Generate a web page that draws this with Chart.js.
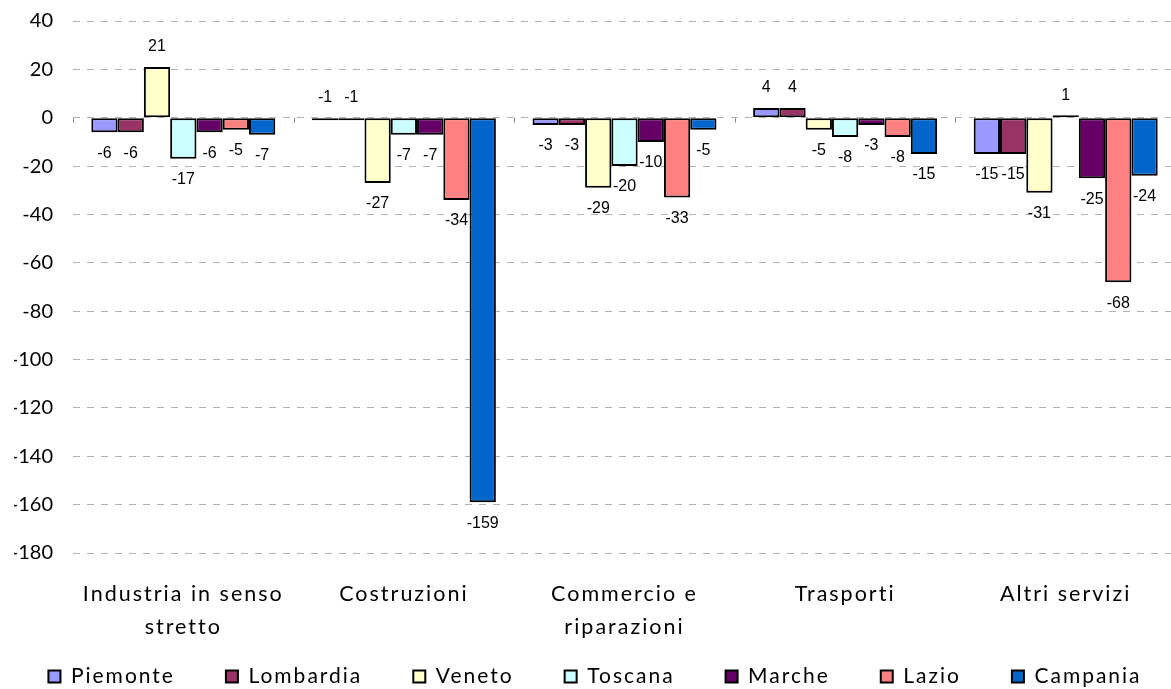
<!DOCTYPE html>
<html lang="it">
<head>
    <meta charset="UTF-8">
    <title>Variazione occupati per settore</title>
    <script src="https://cdn.jsdelivr.net/npm/chart.js"></script>
    <style>
        html, body { margin: 0; padding: 0; background: #fff; overflow: hidden; }
        canvas { display: block; }
    </style>
</head>
<body>
    <canvas id="sectorChart" width="1176" height="689"></canvas>

    <script>
        // categories on the x axis (multi-line labels as arrays)
        const categories = [
            ['Industria in senso', 'stretto'],
            'Costruzioni',
            ['Commercio e', 'riparazioni'],
            'Trasporti',
            'Altri servizi'
        ];

        const regions = ['Piemonte', 'Lombardia', 'Veneto', 'Toscana', 'Marche', 'Lazio', 'Campania'];

        // values per region, one per category
        const piemonte  = [-6, -1, -3, 4, -15];
        const lombardia = [-6, -1, -3, 4, -15];
        const veneto    = [21, -27, -29, -5, -31];
        const toscana   = [-17, -7, -20, -8, 1];
        const marche    = [-6, -7, -10, -3, -25];
        const lazio     = [-5, -34, -33, -8, -68];
        const campania  = [-7, -159, -5, -15, -24];

        const regionColors = ['#9999FF', '#993366', '#FFFFCC', '#CCFFFF', '#660066', '#FF8080', '#0066CC'];

        const yMin = -180;
        const yMax = 40;
        const yStep = 20;

        const seriesValues = [piemonte, lombardia, veneto, toscana, marche, lazio, campania];

        // spaced text for legend / category labels, plain for the y ticks
        const spacingPlugin = {
            id: 'spacing',
            beforeLayout(chart) {
                chart.ctx.letterSpacing = '2px';
                const lg = chart.legend;
                if (lg && !lg._oneRow) {
                    // keep all seven entries on one row even with wide gaps
                    const origFit = lg.fit;
                    lg.fit = function () {
                        const mw = this.maxWidth;
                        this.maxWidth = mw + 300;
                        origFit.call(this);
                        this.maxWidth = mw;
                        this.width = mw;
                    };
                    const origDraw = lg.draw;
                    lg.draw = function () {
                        const l = this.left, r = this.right;
                        this.left = l - 150;
                        this.right = r + 150;
                        origDraw.call(this);
                        this.left = l;
                        this.right = r;
                    };
                    lg._oneRow = true;
                }
            },
            beforeDraw(chart) {
                chart.ctx.letterSpacing = '2px';
                const { x, y } = chart.scales;
                if (y && !y._plainLabels) {
                    const orig = y.drawLabels;
                    y.drawLabels = function (area) {
                        const c = this.ctx;
                        const prev = c.letterSpacing;
                        c.letterSpacing = '0px';
                        orig.call(this, area);
                        c.letterSpacing = prev;
                    };
                    y._plainLabels = true;
                }
                // let the second line of the category labels run past the axis box
                if (x) x._computeLabelArea = () => undefined;
            }
        };

        // small tick marks on the zero line between categories
        const zeroTicksPlugin = {
            id: 'zeroTicks',
            beforeDatasetsDraw(chart) {
                const { ctx, scales: { x, y } } = chart;
                const y0 = y.getPixelForValue(0);
                const step = (x.right - x.left) / categories.length;
                ctx.save();
                ctx.strokeStyle = '#8c8c8c';
                ctx.lineWidth = 1;
                for (let i = 0; i <= categories.length; i++) {
                    const px = Math.round(x.left + i * step) + 0.5;
                    ctx.beginPath();
                    ctx.moveTo(px, y0);
                    ctx.lineTo(px, y0 + 5);
                    ctx.stroke();
                }
                ctx.restore();
            }
        };

        // value labels at bar ends
        const valueLabelsPlugin = {
            id: 'valueLabels',
            afterDatasetsDraw(chart) {
                const { ctx } = chart;
                const base = chart.scales.y.getPixelForValue(0);
                ctx.save();
                ctx.letterSpacing = '0px';
                ctx.font = '16px "Liberation Sans", Arial, sans-serif';
                ctx.fillStyle = '#000';
                ctx.textAlign = 'center';
                ctx.textBaseline = 'middle';
                chart.data.datasets.forEach((ds, i) => {
                    const meta = chart.getDatasetMeta(i);
                    meta.data.forEach((bar, j) => {
                        const v = ds.data[j];
                        let ty;
                        if (v >= 0) ty = bar.y - 20;
                        else if (v > -2) ty = base - 20;
                        else ty = bar.y + 21;
                        ctx.fillText(String(v), bar.x, ty);
                    });
                });
                ctx.restore();
            }
        };

        const ctx = document.getElementById('sectorChart').getContext('2d');

        new Chart(ctx, {
            type: 'bar',
            data: {
                labels: categories,
                datasets: regions.map((name, i) => ({
                    label: name,
                    data: seriesValues[i],
                    backgroundColor: regionColors[i],
                    borderColor: '#000',
                    borderWidth: 2,
                    borderSkipped: false,
                    categoryPercentage: 0.834,
                    barPercentage: 1
                }))
            },
            options: {
                responsive: false,
                animation: false,
                devicePixelRatio: 1,
                layout: {
                    padding: { top: 21, right: 0, bottom: 0, left: 14 }
                },
                scales: {
                    x: {
                        grid: { display: false },
                        border: { display: false },
                        ticks: {
                            color: '#000',
                            padding: 16,
                            maxRotation: 0,
                            autoSkip: false,
                            font: { family: 'Lato', size: 21.5, lineHeight: 1.55 }
                        },
                        afterFit(scale) {
                            scale.height = 62;
                            scale.paddingLeft = 0;
                            scale.paddingRight = 0;
                        }
                    },
                    y: {
                        min: yMin,
                        max: yMax,
                        grid: {
                            color: '#b0b0b0',
                            lineWidth: 1,
                            drawTicks: false
                        },
                        border: { display: false, dash: [7, 7] },
                        ticks: {
                            stepSize: yStep,
                            color: '#000',
                            padding: 20,
                            font: { family: 'Lato', size: 20 }
                        },
                        afterFit(scale) {
                            scale.width = 59;
                            scale.paddingTop = 0;
                            scale.paddingBottom = 0;
                        }
                    }
                },
                plugins: {
                    legend: {
                        position: 'bottom',
                        maxHeight: 74,
                        labels: {
                            color: '#000',
                            boxWidth: 12,
                            boxHeight: 12,
                            padding: 51,
                            font: { family: 'Lato', size: 21 }
                        }
                    },
                    tooltip: { enabled: false }
                }
            },
            plugins: [spacingPlugin, zeroTicksPlugin, valueLabelsPlugin]
        });
    </script>
</body>
</html>
